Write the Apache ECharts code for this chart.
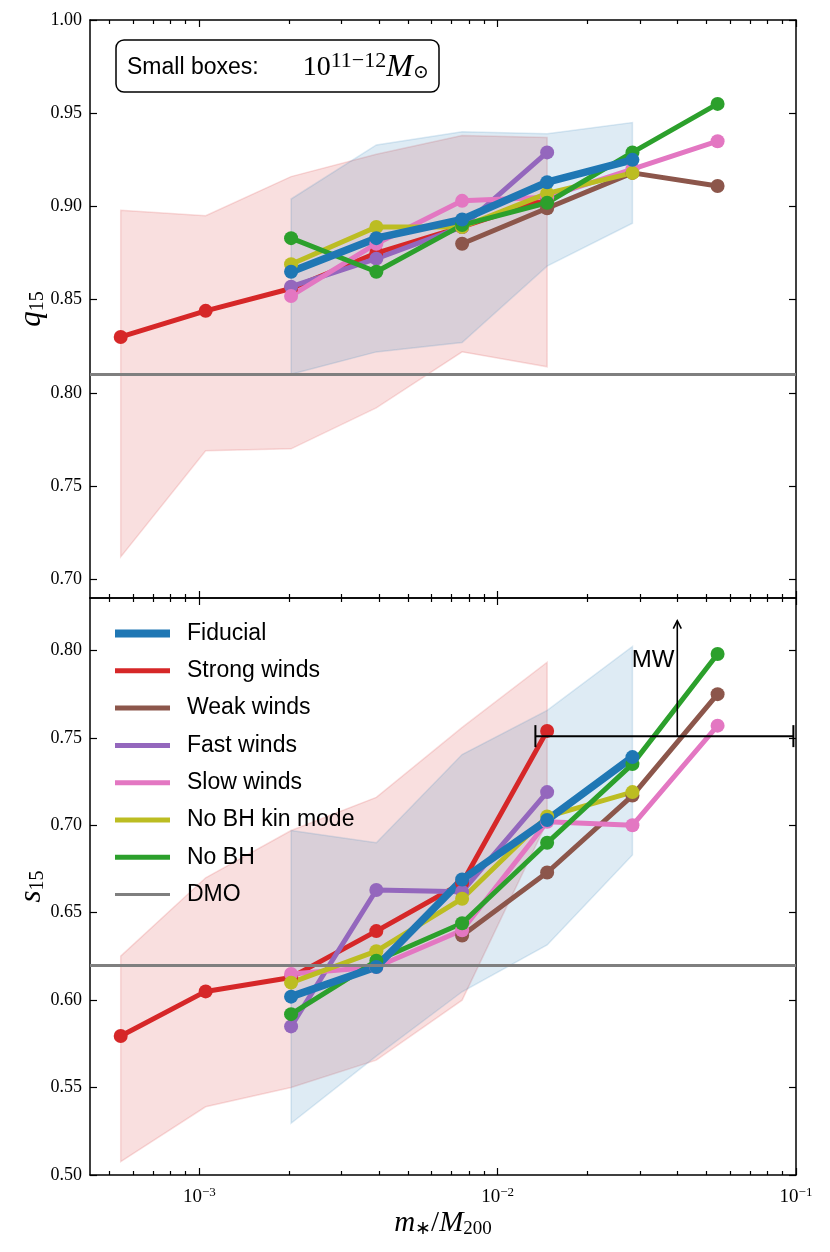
<!DOCTYPE html>
<html>
<head>
<meta charset="utf-8">
<script src="https://cdn.jsdelivr.net/npm/echarts@6/dist/echarts.min.js"></script>
<style>
html, body { margin: 0; padding: 0; background: #fff; }
#chart { width: 830px; height: 1252px; }
</style>
</head>
<body>
<div id="chart"></div>
<script>
// m*/M200 of each mass bin
var massRatio = [5.45e-4, 1.05e-3, 2.03e-3, 3.92e-3, 7.6e-3, 1.465e-2, 2.83e-2, 5.46e-2];

// q15 (top panel)
var qFiducial = [null, null, 0.865, 0.883, 0.893, 0.913, 0.925, null];
var qStrong   = [0.830, 0.844, 0.856, 0.875, 0.889, 0.904, null, null];
var qWeak     = [null, null, null, null, 0.880, 0.899, 0.918, 0.911];
var qFast     = [null, null, 0.857, 0.872, 0.889, 0.929, null, null];
var qSlow     = [null, null, 0.852, 0.880, 0.903, 0.905, 0.920, 0.935];
var qNoBHkin  = [null, null, 0.869, 0.889, 0.889, 0.907, 0.918, null];
var qNoBH     = [null, null, 0.883, 0.865, 0.890, 0.902, 0.929, 0.955];
var qDMO = 0.8087;
// scatter bands (strong winds = red, fiducial = blue)
var qRedLo  = [0.712, 0.769, 0.770, 0.792, 0.822, 0.814, null, null];
var qRedHi  = [0.898, 0.895, 0.916, 0.928, 0.938, 0.937, null, null];
var qBlueLo = [null, null, 0.810, 0.822, 0.827, 0.868, 0.891, null];
var qBlueHi = [null, null, 0.904, 0.933, 0.940, 0.939, 0.945, null];

// s15 (bottom panel)
var sFiducial = [null, null, 0.602, 0.619, 0.669, 0.703, 0.739, null];
var sStrong   = [0.5795, 0.605, 0.613, 0.6395, 0.667, 0.754, null, null];
var sWeak     = [null, null, null, null, 0.637, 0.673, 0.717, 0.775];
var sFast     = [null, null, 0.585, 0.663, 0.662, 0.719, null, null];
var sSlow     = [null, null, 0.615, 0.619, 0.640, 0.702, 0.700, 0.757];
var sNoBHkin  = [null, null, 0.610, 0.628, 0.658, 0.705, 0.719, null];
var sNoBH     = [null, null, 0.592, 0.6225, 0.644, 0.690, 0.735, 0.798];
var sDMO = 0.6216;
var sRedLo  = [0.5076, 0.539, 0.550, 0.5657, 0.600, 0.702, null, null];
var sRedHi  = [0.6252, 0.670, 0.697, 0.716, 0.756, 0.7933, null, null];
var sBlueLo = [null, null, 0.5296, 0.568, 0.6048, 0.6316, 0.683, null];
var sBlueHi = [null, null, 0.697, 0.690, 0.7405, 0.7657, 0.8023, null];

// Milky Way marker: x range, level, arrow x and arrow tip
var mwRange = [0.01338, 0.098];
var mwLevel = 0.751;
var mwArrowX = 0.04;
var mwArrowTop = 0.817;

// axis ticks
var xMajorTicks = [1e-3, 1e-2, 1e-1];
var xMinorTicks = [5e-4, 6e-4, 7e-4, 8e-4, 9e-4, 2e-3, 3e-3, 4e-3, 5e-3, 6e-3, 7e-3, 8e-3, 9e-3,
                   2e-2, 3e-2, 4e-2, 5e-2, 6e-2, 7e-2, 8e-2, 9e-2];
var qTicks = [0.70, 0.75, 0.80, 0.85, 0.90, 0.95, 1.00];
var sTicks = [0.50, 0.55, 0.60, 0.65, 0.70, 0.75, 0.80];

var runNames  = ['Strong winds', 'Weak winds', 'Fast winds', 'Slow winds', 'No BH kin mode', 'No BH', 'Fiducial'];
var runColors = ['#d62728', '#8c564b', '#9467bd', '#e377c2', '#bcbd22', '#2ca02c', '#1f77b4'];
var qRuns = [qStrong, qWeak, qFast, qSlow, qNoBHkin, qNoBH, qFiducial];
var sRuns = [sStrong, sWeak, sFast, sSlow, sNoBHkin, sNoBH, sFiducial];

var XMIN = 4.3e-4, XMAX = 0.1;
var SERIF = 'Liberation Serif';
var SANS = 'Liberation Sans';

function pairs(vals) {
    var out = [];
    vals.forEach(function (v, i) { if (v !== null) out.push([massRatio[i], v]); });
    return out;
}

function xAxes(g) {
    var list = [];
    ['bottom', 'top'].forEach(function (pos) {
        [true, false].forEach(function (major) {
            var showLabel = (g === 1 && pos === 'bottom' && major);
            list.push({
                type: 'log', logBase: 10, gridIndex: g, position: pos,
                min: XMIN, max: XMAX,
                axisLine: { show: major, lineStyle: { color: '#000', width: 1.5 } },
                axisTick: { show: true, inside: true, length: major ? 7 : 4,
                            customValues: major ? xMajorTicks : xMinorTicks,
                            lineStyle: { color: '#000', width: 1.2 } },
                axisLabel: { show: showLabel, customValues: xMajorTicks, margin: 11,
                    formatter: function (v) {
                        var e = Math.round(Math.log10(v));
                        return '{b|10}{s|\u2212' + Math.abs(e) + '}';
                    },
                    rich: {
                        b: { fontFamily: SERIF, fontSize: 19, color: '#000' },
                        s: { fontFamily: SERIF, fontSize: 13, color: '#000', padding: [0, 0, 10, 0] }
                    }
                },
                splitLine: { show: false },
                name: showLabel ? '{i|m}{sub|\u2217}{n|/}{i|M}{sub|200}' : '',
                nameLocation: 'middle', nameGap: 33,
                nameTextStyle: {
                    rich: {
                        i: { fontFamily: SERIF, fontStyle: 'italic', fontSize: 29, color: '#000' },
                        n: { fontFamily: SERIF, fontSize: 29, color: '#000' },
                        sub: { fontFamily: SERIF, fontSize: 19, color: '#000', padding: [12, 0, 0, 0] }
                    }
                }
            });
        });
    });
    return list;
}

function yAxes(g, lo, hi, ticks, sym) {
    var base = {
        type: 'value', gridIndex: g, min: lo, max: hi,
        axisLine: { show: true, lineStyle: { color: '#000', width: 1.5 } },
        axisTick: { show: true, inside: true, length: 7, customValues: ticks,
                    lineStyle: { color: '#000', width: 1.2 } },
        splitLine: { show: false }
    };
    var left = Object.assign({}, base, {
        position: 'left',
        axisLabel: { show: true, customValues: ticks, margin: 8, color: '#000',
                     fontFamily: SERIF, fontSize: 18,
                     formatter: function (v) { return v.toFixed(2); } },
        name: '{i|' + sym + '}{sub|15}', nameLocation: 'middle', nameGap: 42, nameRotate: 90,
        nameMoveOverlap: false,
        nameTextStyle: {
            rich: {
                i: { fontFamily: SERIF, fontStyle: 'italic', fontSize: 31, color: '#000' },
                sub: { fontFamily: SERIF, fontSize: 20, color: '#000', padding: [12, 0, 0, 0] }
            }
        }
    });
    var right = Object.assign({}, base, { position: 'right', axisLabel: { show: false } });
    return [left, right];
}

function bandSeries(lo, hi, color, g) {
    var rows = [];
    lo.forEach(function (v, i) { if (v !== null) rows.push([massRatio[i], v, hi[i]]); });
    return {
        type: 'custom', xAxisIndex: g * 4, yAxisIndex: g * 2, silent: true, z: 1,
        data: rows, encode: { x: 0, y: [1, 2] },
        renderItem: function (params, api) {
            if (params.dataIndex !== 0) return null;
            var top = [], bot = [];
            rows.forEach(function (r) {
                top.push(api.coord([r[0], r[2]]));
                bot.unshift(api.coord([r[0], r[1]]));
            });
            return {
                type: 'polygon', shape: { points: top.concat(bot) },
                style: { fill: color, opacity: 0.15, stroke: color, lineWidth: 1.5 }
            };
        }
    };
}

function runSeries(g, runs) {
    return runs.map(function (vals, k) {
        var col = runColors[k];
        var w = runNames[k] === 'Fiducial' ? 7.5 : 5;
        return {
            type: 'line', name: runNames[k], xAxisIndex: g * 4, yAxisIndex: g * 2,
            data: pairs(vals), symbol: 'circle', symbolSize: 14, z: 3,
            lineStyle: { color: col, width: w }, itemStyle: { color: col },
            emphasis: { disabled: true }
        };
    });
}

function dmoSeries(g, level) {
    return {
        type: 'line', name: 'DMO', xAxisIndex: g * 4, yAxisIndex: g * 2, data: [], z: 2,
        itemStyle: { color: '#7f7f7f' }, lineStyle: { color: '#7f7f7f', width: 3 },
        markLine: { silent: true, symbol: 'none', label: { show: false },
                    lineStyle: { color: '#7f7f7f', width: 3, type: 'solid' },
                    data: [{ yAxis: level }] }
    };
}

var mwSeries = {
    type: 'custom', xAxisIndex: 4, yAxisIndex: 2, silent: true, z: 6,
    data: [[mwRange[0], mwRange[1], mwLevel, mwArrowX, mwArrowTop]],
    encode: { x: [0, 1, 3], y: [2, 4] },
    renderItem: function (params, api) {
        var a = api.coord([api.value(0), api.value(2)]);
        var b = api.coord([api.value(1), api.value(2)]);
        var c = api.coord([api.value(3), api.value(2)]);
        var d = api.coord([api.value(3), api.value(4)]);
        var st = { stroke: '#000', lineWidth: 2 };
        return {
            type: 'group', children: [
                { type: 'line', shape: { x1: a[0], y1: a[1], x2: b[0], y2: b[1] }, style: st },
                { type: 'line', shape: { x1: a[0], y1: a[1] - 11, x2: a[0], y2: a[1] + 11 }, style: st },
                { type: 'line', shape: { x1: b[0], y1: b[1] - 11, x2: b[0], y2: b[1] + 11 }, style: st },
                { type: 'line', shape: { x1: c[0], y1: c[1], x2: d[0], y2: d[1] }, style: { stroke: '#000', lineWidth: 1.6 } },
                { type: 'polyline', shape: { points: [[d[0] - 4, d[1] + 8], [d[0], d[1]], [d[0] + 4, d[1] + 8]] },
                  style: { stroke: '#000', lineWidth: 1.6, fill: null } },
                { type: 'text', x: d[0] - 3, y: d[1] + 40,
                  style: { text: 'MW', fontFamily: SANS, fontSize: 24, fill: '#000',
                           align: 'right', verticalAlign: 'middle' } }
            ]
        };
    }
};

var series = [];
series.push(bandSeries(qRedLo, qRedHi, '#d62728', 0));
series.push(bandSeries(qBlueLo, qBlueHi, '#1f77b4', 0));
series.push(bandSeries(sRedLo, sRedHi, '#d62728', 1));
series.push(bandSeries(sBlueLo, sBlueHi, '#1f77b4', 1));
series.push(dmoSeries(0, qDMO));
series.push(dmoSeries(1, sDMO));
series = series.concat(runSeries(0, qRuns), runSeries(1, sRuns));
series.push(mwSeries);

function legendItem(name, h) {
    return { name: name, icon: 'path://M0,0H55V' + h + 'H0Z' };
}

var option = {
    backgroundColor: '#fff',
    animation: false,
    title: {
        text: '{a|Small boxes:}{g| }{n|10}{sup|11\u221212}{m|M}{sub|\u2299}',
        left: 116, top: 40,
        padding: [10, 10, 9, 11],
        borderColor: '#000', borderWidth: 1.5, borderRadius: 8,
        textStyle: {
            fontWeight: 'normal',
            rich: {
                a: { fontFamily: SANS, fontWeight: 'normal', fontSize: 23, color: '#000' },
                g: { width: 44, fontSize: 23 },
                n: { fontFamily: SERIF, fontWeight: 'normal', fontSize: 28, color: '#000' },
                sup: { fontFamily: SERIF, fontWeight: 'normal', fontSize: 22, color: '#000', padding: [0, 0, 13, 0] },
                m: { fontFamily: SERIF, fontWeight: 'normal', fontStyle: 'italic', fontSize: 32, color: '#000' },
                sub: { fontFamily: 'DejaVu Serif', fontWeight: 'normal', fontSize: 19, color: '#000', padding: [12, 0, 0, 0] }
            }
        }
    },
    legend: {
        orient: 'vertical', left: 110, top: 617,
        itemWidth: 55, itemHeight: 8, itemGap: 14.3,
        selectedMode: false,
        itemStyle: { borderWidth: 0 },
        textStyle: { fontFamily: SANS, fontSize: 23, color: '#000', lineHeight: 23, padding: [0, 0, 0, 12] },
        data: [legendItem('Fiducial', 8), legendItem('Strong winds', 5), legendItem('Weak winds', 5),
               legendItem('Fast winds', 5), legendItem('Slow winds', 5), legendItem('No BH kin mode', 5),
               legendItem('No BH', 5), legendItem('DMO', 3)]
    },
    grid: [
        { left: 90, top: 20, width: 706, height: 578 },
        { left: 90, top: 598, width: 706, height: 577 }
    ],
    xAxis: xAxes(0).concat(xAxes(1)),
    yAxis: yAxes(0, 0.69, 1.00, qTicks, 'q').concat(yAxes(1, 0.50, 0.83, sTicks, 's')),
    series: series
};

var chart = echarts.init(document.getElementById('chart'), null, { renderer: 'canvas' });
chart.setOption(option);
</script>
</body>
</html>
